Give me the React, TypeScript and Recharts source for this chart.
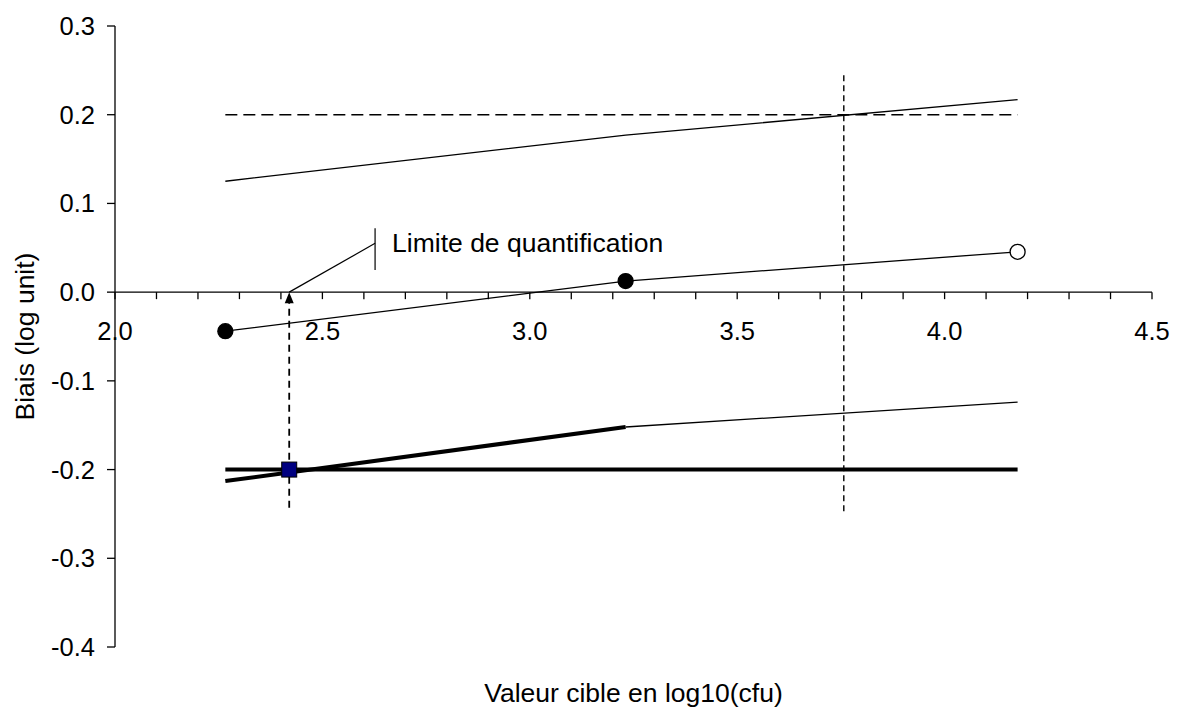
import {
  ComposedChart,
  Line,
  Scatter,
  XAxis,
  YAxis,
  ReferenceLine,
  ReferenceDot,
} from 'recharts'

const FONT = '"Liberation Sans", Arial, sans-serif'

// measured series: target level vs bias, with tolerance interval limits
const targetX = [2.266, 3.231, 4.176]
const biasY = [-0.044, 0.0125, 0.0455]
const upperY = [0.125, 0.177, 0.217]
const lowerY = [-0.213, -0.152, -0.124]
const validated = [true, true, false]

// acceptance limits and quantification limit
const acceptLimit = 0.2
const loqX = 2.42
const loqY = -0.2
const loqLineBottom = -0.243
const upperCrossX = 3.757
const upperCrossRange = [-0.247, 0.247]

// annotation
const noteText = 'Limite de quantification'
const noteX = 2.627
const noteY = 0.055
const noteBar = [0.025, 0.072]

// axes
const yTicks = [-0.4, -0.3, -0.2, -0.1, 0, 0.1, 0.2, 0.3]
const xTicks = [
  2.0, 2.1, 2.2, 2.3, 2.4, 2.5, 2.6, 2.7, 2.8, 2.9, 3.0, 3.1, 3.2,
  3.3, 3.4, 3.5, 3.6, 3.7, 3.8, 3.9, 4.0, 4.1, 4.2, 4.3, 4.4, 4.5,
]
const xLabelled = [2.0, 2.5, 3.0, 3.5, 4.0, 4.5]

const toPoints = (xs: number[], ys: number[]) => xs.map((x, i) => ({ x, y: ys[i] }))

const biasData = toPoints(targetX, biasY)
const upperData = toPoints(targetX, upperY)
const lowerThick = toPoints(targetX.slice(0, 2), lowerY.slice(0, 2))
const lowerThin = toPoints(targetX.slice(1), lowerY.slice(1))
const first = targetX[0]
const last = targetX[targetX.length - 1]
const upperLimitData = [{ x: first, y: acceptLimit }, { x: last, y: acceptLimit }]
const lowerLimitData = [{ x: first, y: -acceptLimit }, { x: last, y: -acceptLimit }]
const loqData = [{ x: loqX, y: loqY }]

// eslint-disable-next-line @typescript-eslint/no-explicit-any
function BiasDot(props: any) {
  const { cx, cy, index } = props
  if (cx == null || cy == null) return <g key={`d${index}`} />
  return (
    <circle
      key={`d${index}`}
      cx={cx}
      cy={cy}
      r={7.5}
      fill={validated[index] ? '#000' : '#fff'}
      stroke="#000"
      strokeWidth={1.3}
    />
  )
}

// eslint-disable-next-line @typescript-eslint/no-explicit-any
function LoqSquare(props: any) {
  const { cx, cy } = props
  return <rect x={cx - 7.5} y={cy - 7.5} width={15} height={15} fill="#000080" stroke="#000" strokeWidth={1} />
}

// eslint-disable-next-line @typescript-eslint/no-explicit-any
function XTick(props: any) {
  const { cx, cy, value } = props
  const labelled = xLabelled.includes(value)
  return (
    <g>
      <line x1={cx} y1={cy} x2={cx} y2={cy + 7} stroke="#000" strokeWidth={1.3} />
      {labelled && (
        <text x={cx} y={cy + 48} textAnchor="middle" fontFamily={FONT} fontSize={25.5} fill="#000">
          {value.toFixed(1)}
        </text>
      )}
    </g>
  )
}

// eslint-disable-next-line @typescript-eslint/no-explicit-any
function ArrowHead(props: any) {
  const { cx, cy } = props
  return <path d={`M${cx},${cy} L${cx - 4.5},${cy + 11} L${cx + 4.5},${cy + 11} Z`} fill="#000" />
}

// eslint-disable-next-line @typescript-eslint/no-explicit-any
function NoteLabel(props: any) {
  const { cx, cy } = props
  return (
    <text x={cx + 17} y={cy + 9} fontFamily={FONT} fontSize={26.5} fill="#000">
      {noteText}
    </text>
  )
}

export default function App() {
  return (
    <div style={{ position: 'absolute', left: 0, top: 0, background: '#fff' }}>
      <ComposedChart width={1177} height={707} margin={{ top: 26, right: 25, bottom: 0, left: 0 }}>
        <XAxis
          dataKey="x"
          type="number"
          domain={[2, 4.5]}
          ticks={xLabelled}
          tick={false}
          tickLine={false}
          axisLine={false}
          height={60}
          label={{
            value: 'Valeur cible en log10(cfu)',
            position: 'insideBottom',
            offset: 5,
            style: { fontFamily: FONT, fontSize: 26.5, fill: '#000' },
          }}
        />
        <YAxis
          type="number"
          domain={[-0.4, 0.3]}
          ticks={yTicks}
          width={115}
          tickSize={8}
          tickMargin={12}
          tickFormatter={(v: number) => v.toFixed(1)}
          tick={{ fontFamily: FONT, fontSize: 25.5, fill: '#000' }}
          tickLine={{ stroke: '#000', strokeWidth: 1.3 }}
          axisLine={{ stroke: '#000', strokeWidth: 1.3 }}
          label={{
            value: 'Biais (log unit)',
            angle: -90,
            position: 'insideLeft',
            offset: 25,
            style: { fontFamily: FONT, fontSize: 26.5, fill: '#000', textAnchor: 'middle' },
          }}
        />

        {/* x axis drawn through zero */}
        <ReferenceLine y={0} stroke="#000" strokeWidth={1.3} />
        {xTicks.map((t) => (
          <ReferenceDot key={t} x={t} y={0} r={0} shape={(p: object) => <XTick {...p} value={t} />} />
        ))}

        {/* vertical guides */}
        <ReferenceLine
          segment={[{ x: upperCrossX, y: upperCrossRange[0] }, { x: upperCrossX, y: upperCrossRange[1] }]}
          stroke="#000"
          strokeWidth={1.4}
          strokeDasharray="6 4"
        />
        <ReferenceLine
          segment={[{ x: loqX, y: loqLineBottom }, { x: loqX, y: 0 }]}
          stroke="#000"
          strokeWidth={1.8}
          strokeDasharray="7 5"
        />
        <ReferenceDot x={loqX} y={0} r={0} shape={ArrowHead} />

        {/* annotation */}
        <ReferenceLine segment={[{ x: loqX, y: 0 }, { x: noteX, y: noteY }]} stroke="#000" strokeWidth={1.2} />
        <ReferenceLine segment={[{ x: noteX, y: noteBar[0] }, { x: noteX, y: noteBar[1] }]} stroke="#000" strokeWidth={1.2} />
        <ReferenceDot x={noteX} y={noteY} r={0} shape={NoteLabel} />

        <Line data={upperLimitData} dataKey="y" stroke="#000" strokeWidth={1.5} strokeDasharray="12 6" dot={false} isAnimationActive={false} />
        <Line data={lowerLimitData} dataKey="y" stroke="#000" strokeWidth={4} dot={false} isAnimationActive={false} />
        <Line data={upperData} dataKey="y" stroke="#000" strokeWidth={1.3} dot={false} isAnimationActive={false} />
        <Line data={lowerThick} dataKey="y" stroke="#000" strokeWidth={4} dot={false} isAnimationActive={false} />
        <Line data={lowerThin} dataKey="y" stroke="#000" strokeWidth={1.3} dot={false} isAnimationActive={false} />
        <Line data={biasData} dataKey="y" stroke="#000" strokeWidth={1.3} dot={BiasDot} isAnimationActive={false} />
        <Scatter data={loqData} dataKey="y" shape={LoqSquare} isAnimationActive={false} />
      </ComposedChart>
    </div>
  )
}
